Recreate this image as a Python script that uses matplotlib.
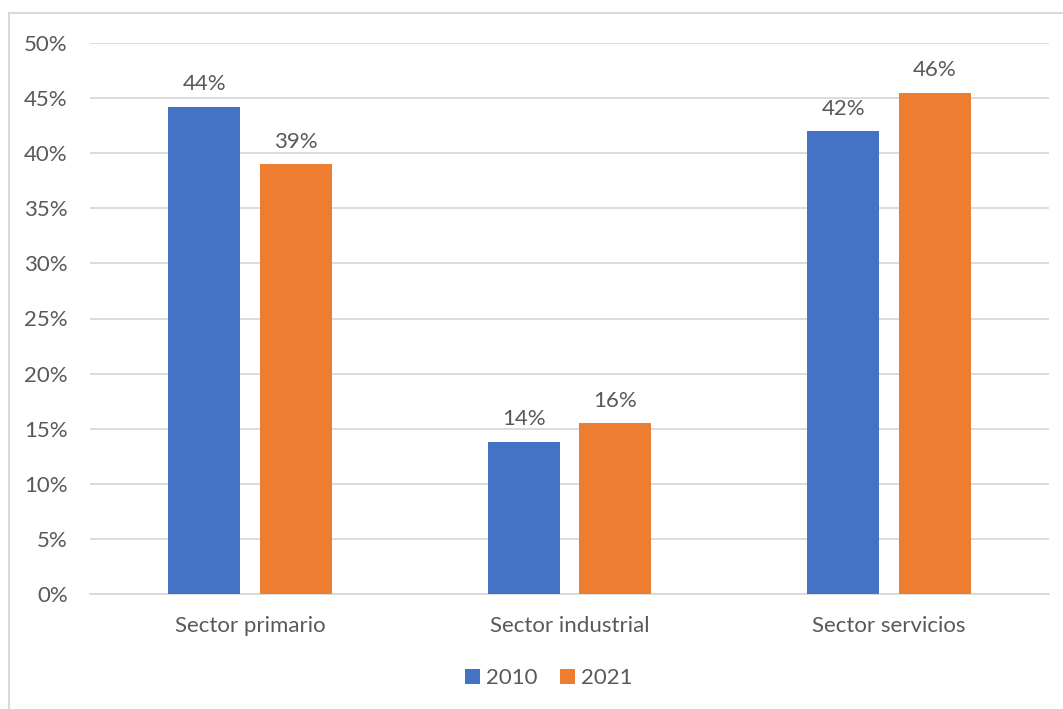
import matplotlib
matplotlib.use("Agg")
import matplotlib.pyplot as plt
from matplotlib.patches import Rectangle
import numpy as np

categories = ["Sector primario", "Sector industrial", "Sector servicios"]
series_names = ["2010", "2021"]
values_2010 = [0.442, 0.138, 0.420]
values_2021 = [0.390, 0.155, 0.455]
labels_2010 = ["44%", "14%", "42%"]
labels_2021 = ["39%", "16%", "46%"]
y_ticks = [0, 0.05, 0.10, 0.15, 0.20, 0.25, 0.30, 0.35, 0.40, 0.45, 0.50]

blue = "#4472C4"
orange = "#ED7D31"
text_color = "#595959"
font = "Lato"
fs = 16

fig = plt.figure(figsize=(10.63, 7.09), dpi=100)
fig.patch.set_facecolor("white")
fig.patches.append(Rectangle((9/1063, -0.1), 1.2, (709-13)/709 + 0.1,
                             transform=fig.transFigure, fill=False,
                             edgecolor="#D9D9D9", linewidth=1.5))
ax = fig.add_axes([90/1063, 1-594/709, (1049-90)/1063, (594-43)/709])

x = np.arange(len(categories))
w = 0.225
off = 0.143
b1 = ax.bar(x - off, values_2010, w, color=blue, label=series_names[0], zorder=3)
b2 = ax.bar(x + off, values_2021, w, color=orange, label=series_names[1], zorder=3)

for bars, labs in ((b1, labels_2010), (b2, labels_2021)):
    for r, lab in zip(bars, labs):
        ax.annotate(lab, (r.get_x() + r.get_width()/2, r.get_height()),
                    xytext=(0, 9), textcoords="offset points",
                    ha="center", va="bottom", fontsize=fs, color=text_color,
                    family=font)

ax.set_xlim(-0.5, 2.5)
ax.set_ylim(0, 0.5)
ax.set_yticks(y_ticks)
ax.set_yticklabels([f"{int(round(t*100))}%" for t in y_ticks])
ax.set_xticks(x)
ax.set_xticklabels(categories)
ax.yaxis.grid(True, color="#D9D9D9", linewidth=1.3, zorder=0)
ax.set_axisbelow(True)
for s in ["top", "right", "left"]:
    ax.spines[s].set_visible(False)
ax.spines["bottom"].set_color("#D9D9D9")
ax.spines["bottom"].set_linewidth(1.3)
ax.tick_params(axis="both", length=0, labelsize=fs, labelcolor=text_color)
ax.tick_params(axis="y", pad=16)
ax.tick_params(axis="x", pad=16)
for t in ax.get_xticklabels() + ax.get_yticklabels():
    t.set_family(font)

leg = fig.legend(loc="center", bbox_to_anchor=(549/1063, 1-678/709), ncol=2,
                 frameon=False, handlelength=0.65, handleheight=0.65,
                 handletextpad=0.3, columnspacing=1.0,
                 prop={"family": font, "size": fs})
for t in leg.get_texts():
    t.set_color(text_color)

fig.savefig("out.png", dpi=100, facecolor="white")
